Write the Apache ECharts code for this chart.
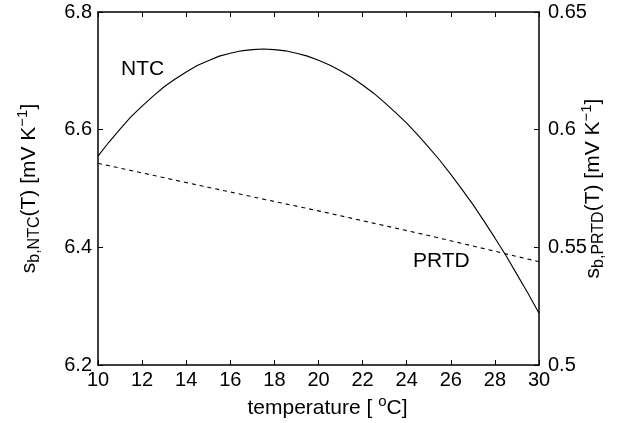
<!DOCTYPE html>
<html>
<head>
<meta charset="utf-8">
<script src="https://cdn.jsdelivr.net/npm/echarts@6/dist/echarts.min.js"></script>
<style>
html,body{margin:0;padding:0;background:#fff;}
#main{width:619px;height:423px;}
</style>
</head>
<body>
<div id="main"></div>
<script>
//温度
var temps = [10, 10.5, 11, 11.5, 12, 12.5, 13, 13.5, 14, 14.5, 15, 15.5, 16, 16.5, 17, 17.5, 18, 18.5, 19, 19.5, 20,
	20.5, 21, 21.5, 22, 22.5, 23, 23.5, 24, 24.5, 25, 25.5, 26, 26.5, 27, 27.5, 28, 28.5, 29, 29.5, 30];
//NTC 灵敏度 (左轴)
var ntcVals = [6.555, 6.579, 6.601, 6.622, 6.640, 6.657, 6.673, 6.686, 6.698, 6.709, 6.717, 6.725, 6.730, 6.734, 6.736, 6.737, 6.736,
	6.734, 6.730, 6.725, 6.718, 6.710, 6.700, 6.689, 6.676, 6.662, 6.646, 6.629, 6.611, 6.591, 6.570, 6.548, 6.524, 6.499,
	6.473, 6.445, 6.416, 6.386, 6.354, 6.322, 6.288];
//PRTD 灵敏度 (右轴)
var prtdTemps = [10, 15, 20, 25, 30];
var prtdVals = [0.5857, 0.5755, 0.5655, 0.5550, 0.5439];

var ntcData = [];
for(var i = 0; i < temps.length; i++) {
	ntcData.push([temps[i], ntcVals[i]]);
}
var prtdData = [];
for(var j = 0; j < prtdTemps.length; j++) {
	prtdData.push([prtdTemps[j], prtdVals[j]]);
}

var font = 'Liberation Sans, Arial, sans-serif';
var rich = {
	n: { fontSize: 21, fontFamily: font, color: '#000', lineHeight: 28, verticalAlign: 'middle' },
	sub: { fontSize: 16, fontFamily: font, color: '#000', lineHeight: 15, verticalAlign: 'bottom' },
	sup: { fontSize: 15, fontFamily: font, color: '#000', lineHeight: 14, verticalAlign: 'top' }
};

var myChart = echarts.init(document.getElementById('main'));
var option = {
	animation: false,
	backgroundColor: '#fff',
	grid: {
		left: 98,
		right: 80,
		top: 12,
		bottom: 58,
		containLabel: false,
		outerBoundsMode: 'none',
		show: false
	},
	xAxis: [{
		type: 'value',
		min: 10,
		max: 30,
		interval: 2,
		position: 'bottom',
		name: '{n|temperature [ }{sup|o}{n|C]}',
		nameLocation: 'middle',
		nameGap: 29,
		nameMoveOverlap: false,
		nameTextStyle: { rich: rich, padding: [0, 0, 0, 18] },
		axisLine: { show: true, onZero: false, lineStyle: { color: '#000', width: 1.5 } },
		axisTick: { show: true, inside: true, length: 5, lineStyle: { color: '#000' } },
		axisLabel: { color: '#000', fontSize: 20, fontFamily: font, margin: 5 },
		splitLine: { show: false }
	}, {
		type: 'value',
		min: 10,
		max: 30,
		interval: 2,
		position: 'top',
		axisLine: { show: true, onZero: false, lineStyle: { color: '#000', width: 1.5 } },
		axisTick: { show: true, inside: true, length: 5, lineStyle: { color: '#000' } },
		axisLabel: { show: false },
		splitLine: { show: false }
	}],
	yAxis: [{
		type: 'value',
		min: 6.2,
		max: 6.8,
		interval: 0.2,
		position: 'left',
		name: '{n|s}{sub|b,NTC}{n|(T) [mV K}{sup|\u22121}{n|]}',
		nameLocation: 'middle',
		nameRotate: 90,
		nameGap: 55,
		nameMoveOverlap: false,
		nameTextStyle: { rich: rich },
		axisLine: { show: true, onZero: false, lineStyle: { color: '#000', width: 1.5 } },
		axisTick: { show: true, inside: true, length: 5, lineStyle: { color: '#000' } },
		axisLabel: {
			color: '#000', fontSize: 20, fontFamily: font, margin: 6,
			formatter: function(v) { return v.toFixed(1); }
		},
		splitLine: { show: false }
	}, {
		type: 'value',
		min: 0.5,
		max: 0.65,
		interval: 0.05,
		position: 'right',
		name: '{n|s}{sub|b,PRTD}{n|(T) [mV K}{sup|\u22121}{n|]}',
		nameLocation: 'middle',
		nameRotate: 90,
		nameGap: 40,
		nameMoveOverlap: false,
		nameTextStyle: { rich: rich },
		axisLine: { show: true, onZero: false, lineStyle: { color: '#000', width: 1.5 } },
		axisTick: { show: true, inside: true, length: 5, lineStyle: { color: '#000' } },
		axisLabel: {
			color: '#000', fontSize: 20, fontFamily: font, margin: 9,
			formatter: function(v) { return String(parseFloat(v.toFixed(2))); }
		},
		splitLine: { show: false }
	}],
	series: [{
		name: 'NTC',
		type: 'line',
		xAxisIndex: 0,
		yAxisIndex: 0,
		data: ntcData,
		smooth: false,
		showSymbol: false,
		lineStyle: { color: '#000', width: 1.1 }
	}, {
		name: 'PRTD',
		type: 'line',
		xAxisIndex: 0,
		yAxisIndex: 1,
		data: prtdData,
		showSymbol: false,
		lineStyle: { color: '#000', width: 1.1, type: [4, 4] }
	}],
	graphic: [{
		type: 'text',
		left: 121,
		top: 59,
		style: { text: 'NTC', fontSize: 21, fontFamily: font, fill: '#000' }
	}, {
		type: 'text',
		left: 413,
		top: 251,
		style: { text: 'PRTD', fontSize: 21, fontFamily: font, fill: '#000' }
	}]
};
myChart.setOption(option);
</script>
</body>
</html>
